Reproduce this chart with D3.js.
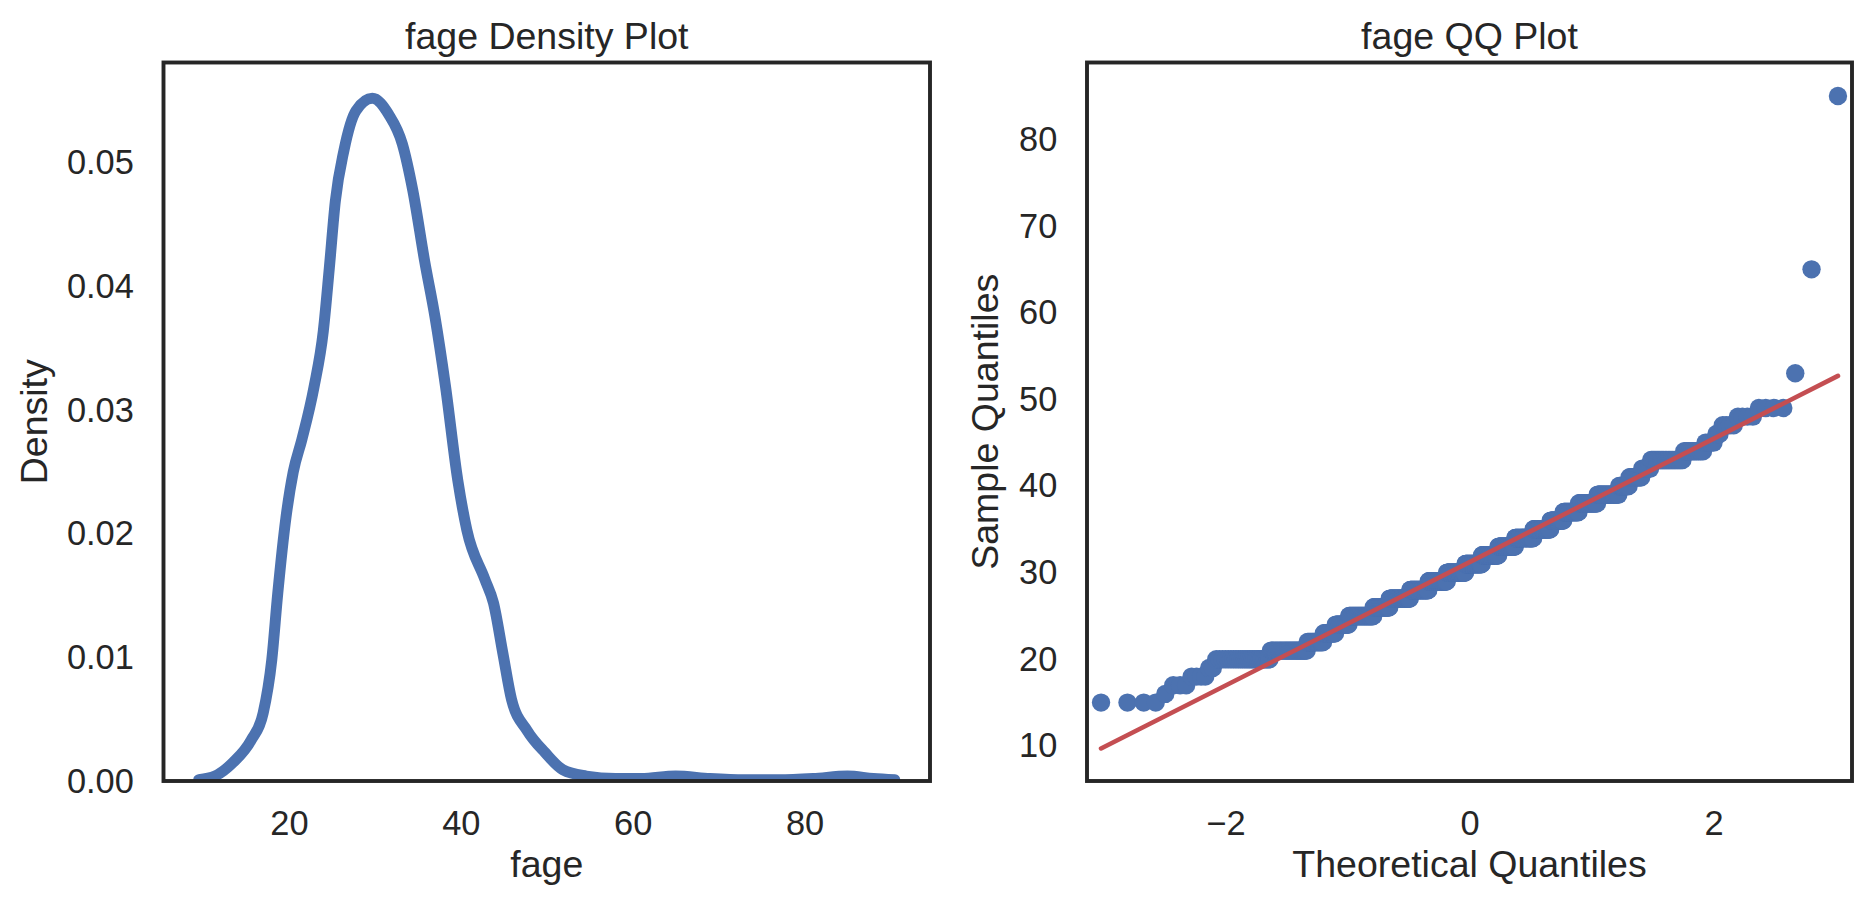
<!DOCTYPE html>
<html>
<head>
<meta charset="utf-8">
<script src="https://cdn.jsdelivr.net/npm/d3@7"></script>
<style>
  body { margin: 0; background: #ffffff; }
  svg { display: block; }
  text { font-family: "Liberation Sans", Arial, sans-serif; fill: #262626; }
</style>
</head>
<body>
<svg id="chart" width="1870" height="906"></svg>
<script>
// ---------------- data ----------------
// KDE curve of fage (left panel)
const kdeFage    = [9.5, 11.4, 13.5, 15.6, 17.0, 18.0, 18.7, 19.65, 20.5, 21.5, 22.9, 24.0, 24.7, 25.4, 26.4, 27.8, 29.7, 31.6, 33.2, 34.4, 35.8, 37.0, 38.2, 39.65, 40.7, 42.8, 43.8, 44.9, 45.9, 47.7, 49.8, 51.9, 54.6, 58, 61, 65, 69, 73, 77, 81, 85, 88, 90.5];
const kdeDensity = [0.0001, 0.0004, 0.0015, 0.0033, 0.0055, 0.0098, 0.0152, 0.0213, 0.0250, 0.0276, 0.0318, 0.0364, 0.0415, 0.0469, 0.0510, 0.0542, 0.0552, 0.0539, 0.0515, 0.0478, 0.0420, 0.0375, 0.0320, 0.0243, 0.0203, 0.0163, 0.0144, 0.0103, 0.0066, 0.0041, 0.0023, 0.0009, 0.0004, 0.0002, 0.0002, 0.0004, 0.0002, 0.0001, 0.0001, 0.0002, 0.0004, 0.0002, 0.0001];
const densityTicks = [0, 0.01, 0.02, 0.03, 0.04, 0.05];
const fageTicks    = [20, 40, 60, 80];

// fage sample, as counts per age (right panel QQ plot)
const qqAges   = [15, 16, 17, 18, 19, 20, 21, 22, 23, 24, 25, 26, 27, 28, 29, 30, 31, 32, 33, 34, 35, 36, 37, 38, 39, 40, 41, 42, 43, 44, 45, 46, 47, 48, 49, 53, 65, 85];
const qqCounts = [ 4,  1,  3,  4,  2, 26, 32, 19, 16, 20, 43, 32, 45, 44, 46, 47, 43, 42, 41, 43, 37, 26, 28, 30, 29, 12, 13,  8, 23, 10,  4,  2,  4,  4,  4,  1,  1,  1];
const qqXTicks = [-2, 0, 2];
const qqYTicks = [10, 20, 30, 40, 50, 60, 70, 80];

// ---------------- helpers ----------------
function normInv(p) {               // inverse standard normal CDF (Acklam)
  const a = [-3.969683028665376e+01, 2.209460984245205e+02, -2.759285104469687e+02, 1.383577518672690e+02, -3.066479806614716e+01, 2.506628277459239e+00];
  const b = [-5.447609879822406e+01, 1.615858368580409e+02, -1.556989798598866e+02, 6.680131188771972e+01, -1.328068155288572e+01];
  const c = [-7.784894002430293e-03, -3.223964580411365e-01, -2.400758277161838e+00, -2.549732539343734e+00, 4.374664141464968e+00, 2.938163982698783e+00];
  const d = [7.784695709041462e-03, 3.224671290700398e-01, 2.445134137142996e+00, 3.754408661907416e+00];
  const pl = 0.02425, ph = 1 - pl;
  let q, r;
  if (p < pl) { q = Math.sqrt(-2 * Math.log(p));
    return (((((c[0]*q+c[1])*q+c[2])*q+c[3])*q+c[4])*q+c[5]) / ((((d[0]*q+d[1])*q+d[2])*q+d[3])*q+1); }
  if (p <= ph) { q = p - 0.5; r = q*q;
    return (((((a[0]*r+a[1])*r+a[2])*r+a[3])*r+a[4])*r+a[5])*q / (((((b[0]*r+b[1])*r+b[2])*r+b[3])*r+b[4])*r+1); }
  q = Math.sqrt(-2 * Math.log(1 - p));
  return -(((((c[0]*q+c[1])*q+c[2])*q+c[3])*q+c[4])*q+c[5]) / ((((d[0]*q+d[1])*q+d[2])*q+d[3])*q+1);
}

const ink = "#262626", blue = "#4c72b0", red = "#c44e52";
const tickFont = 34.4, labelFont = 37.5;
const axTop = 62.5, axBottom = 781;
const LP = { x0: 163.5, x1: 930 }, RP = { x0: 1087, x1: 1852 };
const tickGap = 29.7;

const svg = d3.select("#chart");
svg.append("rect").attr("width", 1870).attr("height", 906).attr("fill", "#fff");
const defs = svg.append("defs");
function clip(id, p) {
  defs.append("clipPath").attr("id", id).append("rect")
    .attr("x", p.x0).attr("y", axTop).attr("width", p.x1 - p.x0).attr("height", axBottom - axTop);
}
clip("clipL", LP); clip("clipR", RP);

function styleAxis(g) {
  g.select(".domain").remove();
  g.selectAll(".tick line").remove();
  g.selectAll("text").attr("font-size", tickFont).attr("fill", ink)
    .attr("font-family", '"Liberation Sans", Arial, sans-serif');
}

// ---------------- left panel: density ----------------
const xL = d3.scaleLinear().domain([5.4, 94.6]).range([LP.x0, LP.x1]);
const yL = d3.scaleLinear().domain([0, 0.0581]).range([axBottom, axTop]);

const kdePts = kdeFage.map((f, i) => [f, kdeDensity[i]]);
svg.append("g").attr("clip-path", "url(#clipL)")
  .append("path").datum(kdePts)
  .attr("fill", "none").attr("stroke", blue).attr("stroke-width", 11)
  .attr("stroke-linecap", "round").attr("stroke-linejoin", "round")
  .attr("d", d3.line().x(d => xL(d[0])).y(d => yL(d[1])).curve(d3.curveMonotoneX));

svg.append("g").attr("transform", `translate(${LP.x0},0)`)
  .call(d3.axisLeft(yL).tickValues(densityTicks).tickFormat(d3.format(".2f")).tickSize(0).tickPadding(tickGap))
  .call(styleAxis);
svg.append("g").attr("transform", `translate(0,${axBottom})`)
  .call(d3.axisBottom(xL).tickValues(fageTicks).tickFormat(d3.format("d")).tickSize(0).tickPadding(tickGap))
  .call(styleAxis);

svg.append("rect").attr("x", LP.x0).attr("y", axTop).attr("width", LP.x1 - LP.x0).attr("height", axBottom - axTop)
  .attr("fill", "none").attr("stroke", ink).attr("stroke-width", 3.9);

svg.append("text").attr("x", (LP.x0 + LP.x1) / 2).attr("y", 49).attr("text-anchor", "middle")
  .attr("font-size", labelFont).text("fage Density Plot");
svg.append("text").attr("x", (LP.x0 + LP.x1) / 2).attr("y", 877).attr("text-anchor", "middle")
  .attr("font-size", labelFont).text("fage");
svg.append("text").attr("transform", `translate(47,${(axTop + axBottom) / 2}) rotate(-90)`)
  .attr("text-anchor", "middle").attr("font-size", labelFont).text("Density");

// ---------------- right panel: QQ plot ----------------
const sample = [];
qqAges.forEach((a, i) => { for (let k = 0; k < qqCounts[i]; k++) sample.push(a); });
sample.sort((a, b) => a - b);
const n = sample.length;
const qq = sample.map((v, i) => ({ t: normInv((i + 1) / (n + 1)), v }));
const mu = d3.mean(sample);
const sd = Math.sqrt(d3.mean(sample, v => (v - mu) * (v - mu)));
const tMin = d3.min(qq, d => d.t), tMax = d3.max(qq, d => d.t);

const xR = d3.scaleLinear().domain([-3.135, 3.135]).range([RP.x0, RP.x1]);
const yR = d3.scaleLinear().domain([5.95, 88.87]).range([axBottom, axTop]);

const gR = svg.append("g").attr("clip-path", "url(#clipR)");
gR.selectAll("circle").data(qq).join("circle")
  .attr("cx", d => xR(d.t)).attr("cy", d => yR(d.v)).attr("r", 9.2)
  .attr("fill", blue);
gR.append("line")
  .attr("x1", xR(tMin)).attr("y1", yR(mu + sd * tMin))
  .attr("x2", xR(tMax)).attr("y2", yR(mu + sd * tMax))
  .attr("stroke", red).attr("stroke-width", 4.6).attr("stroke-linecap", "round");

svg.append("g").attr("transform", `translate(${RP.x0},0)`)
  .call(d3.axisLeft(yR).tickValues(qqYTicks).tickFormat(d3.format("d")).tickSize(0).tickPadding(tickGap))
  .call(styleAxis);
svg.append("g").attr("transform", `translate(0,${axBottom})`)
  .call(d3.axisBottom(xR).tickValues(qqXTicks).tickFormat(d3.format("d")).tickSize(0).tickPadding(tickGap))
  .call(styleAxis);

svg.append("rect").attr("x", RP.x0).attr("y", axTop).attr("width", RP.x1 - RP.x0).attr("height", axBottom - axTop)
  .attr("fill", "none").attr("stroke", ink).attr("stroke-width", 3.9);

svg.append("text").attr("x", (RP.x0 + RP.x1) / 2).attr("y", 49).attr("text-anchor", "middle")
  .attr("font-size", labelFont).text("fage QQ Plot");
svg.append("text").attr("x", (RP.x0 + RP.x1) / 2).attr("y", 877).attr("text-anchor", "middle")
  .attr("font-size", labelFont).text("Theoretical Quantiles");
svg.append("text").attr("transform", `translate(998,${(axTop + axBottom) / 2}) rotate(-90)`)
  .attr("text-anchor", "middle").attr("font-size", labelFont).text("Sample Quantiles");
</script>
</body>
</html>
